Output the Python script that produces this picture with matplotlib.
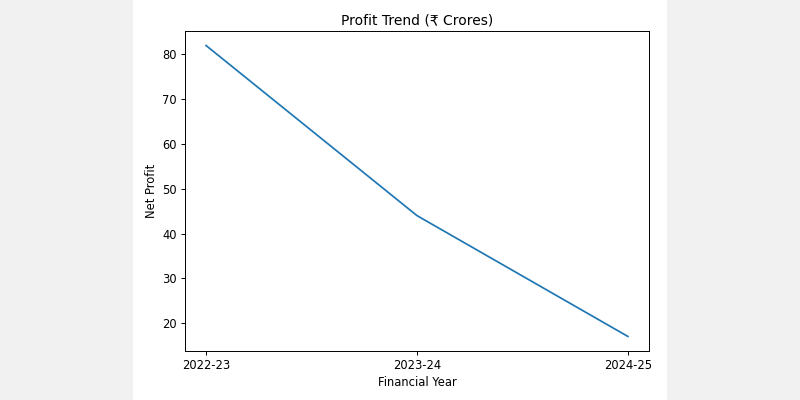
import matplotlib.pyplot as plt

years = ["2022-23", "2023-24", "2024-25"]
net_profit = [82, 44, 17]

fig = plt.figure(figsize=(8, 4), dpi=100, facecolor="#f1f1f1")

# white card that holds the chart, sits behind the plot axes
card = fig.add_axes([133 / 800, 0, 534 / 800, 1], zorder=-1)
card.set_facecolor("white")
card.axis("off")
card.add_patch(plt.Rectangle((0, 0), 1, 1, transform=card.transAxes,
                             facecolor="white", edgecolor="none"))

ax = fig.add_axes([185 / 800, 49 / 400, 464 / 800, 320 / 400])
ax.plot(years, net_profit, color="#1f77b4", linewidth=1.25)

ax.set_title("Profit Trend (₹ Crores)", fontsize=10, pad=5)
ax.set_xlabel("Financial Year", fontsize=8.3, labelpad=3)
ax.set_ylabel("Net Profit", fontsize=8.3, labelpad=3)
ax.tick_params(labelsize=8.3, length=3, width=0.7, pad=3)
for s in ax.spines.values():
    s.set_linewidth(0.7)

fig.savefig("out.png", dpi=100, facecolor=fig.get_facecolor())
